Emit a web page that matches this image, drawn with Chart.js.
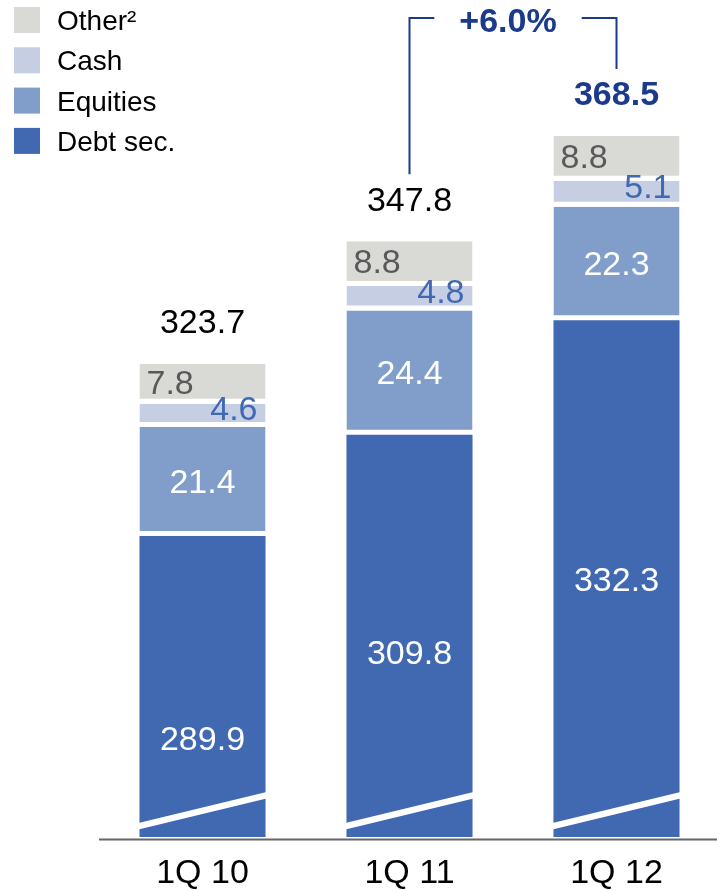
<!DOCTYPE html>
<html>
<head>
<meta charset="utf-8">
<script src="https://cdn.jsdelivr.net/npm/chart.js@4/dist/chart.umd.min.js"></script>
<style>
  html, body { margin: 0; padding: 0; background: #fff; overflow: hidden; }
  #wrap { width: 720px; height: 890px; position: relative; }
</style>
</head>
<body>
<div id="wrap"><canvas id="chart" width="720" height="890"></canvas></div>
<script>
// Assets under management by asset class (bn)
const categories = ['1Q 10', '1Q 11', '1Q 12'];
const debtSec   = [289.9, 309.8, 332.3];
const equities  = [21.4, 24.4, 22.3];
const cash      = [4.6, 4.8, 5.1];
const other     = [7.8, 8.8, 8.8];
const totals    = [323.7, 347.8, 368.5];
const growthLabel = '+6.0%';
const seriesNames = ['Debt sec.', 'Equities', 'Cash', 'Other²'];

const FONT = "'Liberation Sans', Arial, sans-serif";
const COLORS = {
  debt: '#4169B1',
  equities: '#819ECB',
  cash: '#C5CEE2',
  other: '#D9D9D5',
  cashText: '#3F68B5',
  otherText: '#595959',
  accent: '#1B3A8C',
  axis: '#666666'
};
// where the debt label sits inside the (truncated) debt segment, as a fraction from its top
const debtLabelAnchor = [0.67, 0.54, 0.5];

// draw text so that the digits' cap height is centred on y
function capText(ctx, text, x, y, size, color, align, bold) {
  ctx.save();
  ctx.font = (bold ? 'bold ' : '') + size + 'px ' + FONT;
  ctx.fillStyle = color;
  ctx.textAlign = align || 'center';
  ctx.textBaseline = 'alphabetic';
  ctx.fillText(text, x, y + size * 0.358);
  ctx.restore();
}

const overlay = {
  id: 'overlay',
  afterDatasetsDraw(chart) {
    const ctx = chart.ctx;
    const area = chart.chartArea;
    const yScale = chart.scales.y;
    const metas = [0, 1, 2, 3].map(i => chart.getDatasetMeta(i));

    // baseline
    ctx.save();
    ctx.strokeStyle = COLORS.axis;
    ctx.lineWidth = 2;
    ctx.beginPath();
    ctx.moveTo(area.left, area.bottom + 2.5);
    ctx.lineTo(chart.width, area.bottom + 2.5);
    ctx.stroke();
    ctx.restore();

    categories.forEach((cat, i) => {
      const d = metas[0].data[i], e = metas[1].data[i], c = metas[2].data[i], o = metas[3].data[i];
      const left = d.x - d.width / 2, right = d.x + d.width / 2;
      const bottom = area.bottom;

      // axis-break stripe across the debt segment
      ctx.save();
      ctx.fillStyle = '#ffffff';
      ctx.beginPath();
      ctx.moveTo(left - 1, bottom - 14);
      ctx.lineTo(right + 1, bottom - 45);
      ctx.lineTo(right + 1, bottom - 38.5);
      ctx.lineTo(left - 1, bottom - 7.5);
      ctx.closePath();
      ctx.fill();
      ctx.restore();

      // debt label
      const dTop = d.y;
      capText(ctx, debtSec[i].toFixed(1), d.x, dTop + debtLabelAnchor[i] * (bottom - dTop), 34, '#ffffff');
      // equities label (segment has a 5px white gap at its base)
      capText(ctx, equities[i].toFixed(1), e.x, (e.y + e.base - 5) / 2 + 2, 34, '#ffffff');
      // cash label, right aligned
      capText(ctx, cash[i].toFixed(1), right - 8, (c.y + c.base - 5) / 2 - 5, 34, COLORS.cashText, 'right');
      // other label, left aligned
      capText(ctx, other[i].toFixed(1), left + 7, (o.y + o.base - 5) / 2, 34, COLORS.otherText, 'left');
      // total
      const last = i === categories.length - 1;
      capText(ctx, totals[i].toFixed(1), d.x, yScale.getPixelForValue(totals[i]) - 43, 34,
        last ? COLORS.accent : '#000000', 'center', last);
    });

    // growth bracket between the last two totals
    const x1 = metas[0].data[1].x, x2 = metas[0].data[2].x;
    const yLine = 18;
    const textX = (x1 + x2) / 2 - 5;
    ctx.save();
    ctx.font = 'bold 34px ' + FONT;
    const tw = ctx.measureText(growthLabel).width;
    ctx.strokeStyle = COLORS.accent;
    ctx.lineWidth = 2;
    ctx.beginPath();
    ctx.moveTo(x1, yScale.getPixelForValue(totals[1]) - 67);
    ctx.lineTo(x1, yLine);
    ctx.lineTo(textX - tw / 2 - 25, yLine);
    ctx.moveTo(textX + tw / 2 + 25, yLine);
    ctx.lineTo(x2, yLine);
    ctx.lineTo(x2, yScale.getPixelForValue(totals[2]) - 67);
    ctx.stroke();
    ctx.restore();
    capText(ctx, growthLabel, textX, 20, 34, COLORS.accent, 'center', true);

    // legend (top series first)
    const legendColors = [COLORS.other, COLORS.cash, COLORS.equities, COLORS.debt];
    const legendNames = seriesNames.slice().reverse();
    legendNames.forEach((name, k) => {
      const cy = 20 + k * 40.3;
      ctx.fillStyle = legendColors[k];
      ctx.fillRect(14, cy - 13, 26, 26);
      ctx.save();
      ctx.font = '28px ' + FONT;
      ctx.fillStyle = '#000000';
      ctx.textAlign = 'left';
      ctx.textBaseline = 'alphabetic';
      ctx.fillText(name, 57, cy + 28 * 0.358);
      ctx.restore();
    });
  }
};

const segBorder = { top: 0, left: 0, right: 0, bottom: 5 };

new Chart(document.getElementById('chart'), {
  type: 'bar',
  data: {
    labels: categories,
    datasets: [
      { label: seriesNames[0], data: debtSec, backgroundColor: COLORS.debt, borderWidth: 0 },
      { label: seriesNames[1], data: equities, backgroundColor: COLORS.equities,
        borderColor: '#ffffff', borderWidth: segBorder, borderSkipped: false },
      { label: seriesNames[2], data: cash, backgroundColor: COLORS.cash,
        borderColor: '#ffffff', borderWidth: segBorder, borderSkipped: false },
      { label: seriesNames[3], data: other, backgroundColor: COLORS.other,
        borderColor: '#ffffff', borderWidth: segBorder, borderSkipped: false }
    ]
  },
  options: {
    responsive: false,
    devicePixelRatio: 1,
    animation: false,
    layout: { padding: { left: 99, right: 0, top: 10, bottom: 0 } },
    datasets: { bar: { barPercentage: 0.609, categoryPercentage: 1 } },
    plugins: { legend: { display: false }, tooltip: { enabled: false } },
    scales: {
      x: {
        stacked: true,
        grid: { display: false, drawTicks: false },
        border: { display: false },
        ticks: { color: '#000000', font: { family: FONT, size: 34 }, padding: 16 },
        afterFit(scale) { scale.height = 53; }
      },
      y: {
        stacked: true,
        display: false,
        min: 230.75,
        max: 393.26
      }
    }
  },
  plugins: [overlay]
});
</script>
</body>
</html>
